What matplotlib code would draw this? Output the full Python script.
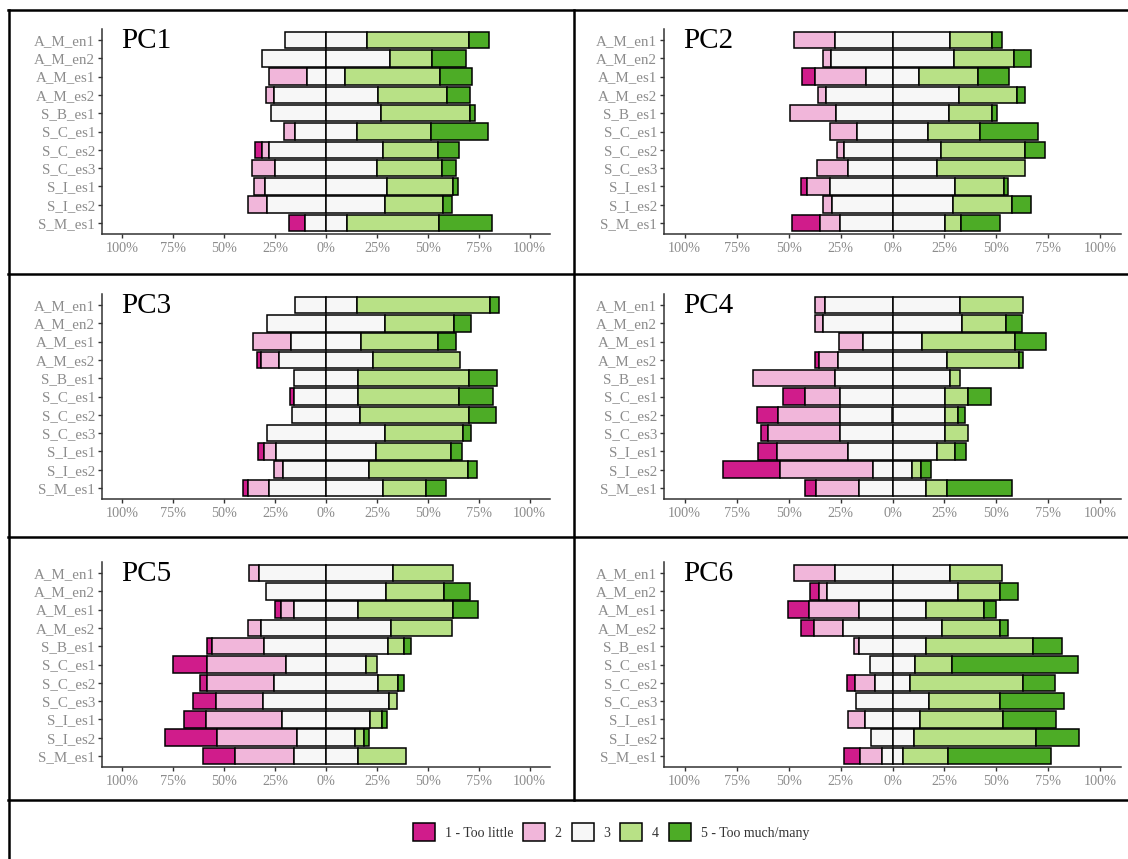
import matplotlib
matplotlib.use("Agg")
import matplotlib.pyplot as plt
import numpy as np
from matplotlib.patches import Patch
from matplotlib.lines import Line2D

plt.rcParams['font.family'] = ['Liberation Serif', 'DejaVu Serif']

# items, top to bottom
items = ["A_M_en1", "A_M_en2", "A_M_es1", "A_M_es2", "S_B_es1", "S_C_es1",
         "S_C_es2", "S_C_es3", "S_I_es1", "S_I_es2", "S_M_es1"]
levels = ["1 - Too little", "2", "3", "4", "5 - Too much/many"]
colors = ["#d01c8b", "#f1b6da", "#f7f7f7", "#b8e186", "#4dac26"]
tick_vals = [-100, -75, -50, -25, 0, 25, 50, 75, 100]
tick_labels = ["100%", "75%", "50%", "25%", "0%", "25%", "50%", "75%", "100%"]

# percentages per level (1..5) for each item
pc1 = [[0, 0, 40.0, 50.0, 10.0],
       [0, 0, 62.5, 20.7, 16.8],
       [0, 18.7, 18.8, 46.6, 15.9],
       [0, 4.1, 50.7, 34.0, 11.2],
       [0, 0, 53.9, 43.8, 2.3],
       [0, 5.4, 30.2, 36.6, 27.8],
       [3.2, 3.5, 56.3, 26.9, 10.1],
       [0, 11.1, 50.3, 31.9, 6.7],
       [0, 5.3, 60.0, 32.3, 2.4],
       [0, 9.1, 58.3, 28.3, 4.3],
       [8.1, 0, 20.4, 45.3, 26.2]]
pc2 = [[0, 19.9, 54.9, 20.4, 4.8],
       [0, 3.9, 58.8, 29.2, 8.1],
       [6.3, 24.9, 25.2, 28.5, 15.1],
       [0, 4.1, 63.9, 27.9, 4.1],
       [0, 22.3, 54.5, 20.8, 2.4],
       [0, 13.2, 33.8, 25.4, 27.6],
       [0, 3.3, 46.9, 40.3, 9.5],
       [0, 14.9, 42.9, 42.2, 0],
       [2.9, 11.3, 60.0, 23.6, 2.2],
       [0, 4.0, 58.7, 28.4, 8.9],
       [13.2, 10.0, 50.2, 8.1, 18.5]]
pc3 = [[0, 0, 30.5, 65.2, 4.3],
       [0, 0, 58.0, 34.0, 8.0],
       [0, 19.0, 34.0, 38.0, 9.0],
       [2.0, 9.0, 46.0, 43.0, 0],
       [0, 0, 31.8, 54.5, 13.7],
       [2.3, 0, 31.0, 50.0, 16.7],
       [0, 0, 33.4, 53.4, 13.2],
       [0, 0, 58.0, 38.3, 3.7],
       [2.7, 6.1, 48.9, 37.1, 5.2],
       [0, 4.7, 41.9, 48.6, 4.8],
       [2.6, 10.5, 55.6, 21.3, 10.0]]
pc4 = [[0, 4.7, 65.4, 29.9, 0],
       [0, 4.0, 67.0, 21.2, 7.8],
       [0, 11.7, 28.4, 45.0, 14.9],
       [1.8, 9.0, 52.9, 34.6, 1.7],
       [0, 39.5, 55.6, 4.9, 0],
       [10.6, 16.7, 50.8, 10.9, 11.0],
       [10.0, 29.9, 50.6, 6.0, 3.5],
       [3.5, 34.7, 50.6, 11.2, 0],
       [9.0, 34.3, 42.6, 8.6, 5.5],
       [27.5, 44.7, 18.5, 4.7, 4.6],
       [5.5, 20.6, 32.3, 10.3, 31.3]]
pc5 = [[0, 5.0, 65.6, 29.4, 0],
       [0, 0, 58.6, 28.8, 12.6],
       [3.1, 6.5, 31.1, 46.9, 12.4],
       [0, 6.2, 64.3, 29.5, 0],
       [2.6, 25.5, 60.5, 7.9, 3.5],
       [16.8, 38.9, 39.0, 5.3, 0],
       [3.2, 33.0, 51.0, 9.7, 3.1],
       [11.5, 23.1, 61.5, 3.9, 0],
       [11.0, 37.3, 43.0, 6.1, 2.6],
       [25.7, 39.3, 28.1, 4.8, 2.1],
       [15.7, 28.9, 31.8, 23.6, 0]]
pc6 = [[0, 20.0, 55.0, 25.0, 0],
       [4.4, 3.8, 63.1, 20.1, 8.6],
       [9.8, 24.4, 31.8, 28.3, 5.7],
       [6.5, 13.8, 47.9, 28.0, 3.8],
       [0, 2.5, 31.8, 51.7, 14.0],
       [0, 0, 21.5, 17.7, 60.8],
       [3.6, 9.8, 16.9, 54.3, 15.4],
       [0, 0, 34.9, 34.4, 30.7],
       [0, 8.4, 26.0, 40.2, 25.4],
       [0, 0, 20.8, 58.7, 20.5],
       [7.7, 10.6, 10.5, 21.5, 49.7]]

panels = [("PC1", pc1), ("PC2", pc2), ("PC3", pc3),
          ("PC4", pc4), ("PC5", pc5), ("PC6", pc6)]

W, H = 1128, 859
fig = plt.figure(figsize=(W / 100, H / 100), dpi=100)
fig.patch.set_facecolor("white")

cols = [(102, 550), (664, 1121)]
rows = [(29, 234), (294, 499), (562, 767)]


def add_px_axes(l, t, r, b):
    return fig.add_axes([l / W, 1 - b / H, (r - l) / W, (b - t) / H])


def draw_likert(ax, name, data):
    d = np.array(data, dtype=float)
    y = np.arange(len(items))
    # split neutral in halves around zero
    segs = [d[:, 0], d[:, 1], d[:, 2] / 2, d[:, 2] / 2, d[:, 3], d[:, 4]]
    seg_cols = [colors[0], colors[1], colors[2], colors[2], colors[3], colors[4]]
    start = -(d[:, 0] + d[:, 1] + d[:, 2] / 2)
    for w, c in zip(segs, seg_cols):
        m = w > 0
        ax.barh(y[m], w[m], left=start[m], height=0.9, color=c,
                edgecolor="black", linewidth=1.1, zorder=2)
        start = start + w

    ax.set_xlim(-110, 110)
    ax.set_ylim(len(items) - 0.4, -0.6)
    ax.set_yticks(y)
    ax.set_yticklabels(items)
    ax.set_xticks(tick_vals)
    ax.set_xticklabels(tick_labels)
    for s in ["top", "right"]:
        ax.spines[s].set_visible(False)
    for s in ["left", "bottom"]:
        ax.spines[s].set_color("#333333")
        ax.spines[s].set_linewidth(1.1)
    ax.tick_params(axis="both", colors="#333333", labelcolor="#8c8c8c",
                   length=3, width=1)
    ax.tick_params(axis="y", pad=2, labelsize=10.8)
    ax.tick_params(axis="x", pad=3, labelsize=10.3)
    ax.text(0.042, 0.94, name, transform=ax.transAxes, fontsize=21,
            va="center", ha="left", color="black")


for i, (name, data) in enumerate(panels):
    l, r = cols[i % 2]
    t, b = rows[i // 2]
    ax = add_px_axes(l, t, r, b)
    draw_likert(ax, name, data)

# frame lines around the panels
def hline(yp, x0=8, x1=W):
    fig.add_artist(Line2D([x0 / W, x1 / W], [1 - yp / H, 1 - yp / H],
                          color="black", linewidth=1.8))


def vline(xp, y0, y1):
    fig.add_artist(Line2D([xp / W, xp / W], [1 - y0 / H, 1 - y1 / H],
                          color="black", linewidth=1.8))


hline(10)
hline(274)
hline(537)
hline(800)
vline(9, 10, H)
vline(574, 10, 800)

handles = [Patch(facecolor=c, edgecolor="black", linewidth=1.1) for c in colors]
fig.legend(handles, levels, loc="center", bbox_to_anchor=(611 / W, 1 - 832 / H),
           ncol=5, frameon=False, fontsize=10, handlelength=1.6, handleheight=1.6,
           handletextpad=0.7, columnspacing=0.7, labelcolor="#333333")

fig.savefig("out.png", dpi=100)
